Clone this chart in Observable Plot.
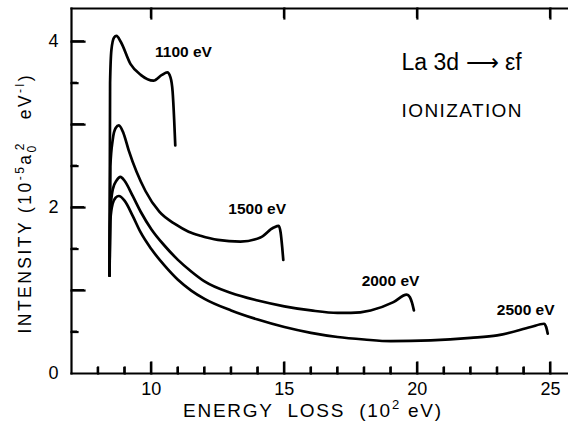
<!DOCTYPE html>
<html><head><meta charset="utf-8">
<script src="https://cdn.jsdelivr.net/npm/d3@7"></script>
<script src="https://cdn.jsdelivr.net/npm/@observablehq/plot@0.6"></script>
<style>body{margin:0;background:#fff}</style>
</head><body><div id="chart"></div>
<script>
// Energy loss in units of 10^2 eV, intensity in 10^-5 a0^2 eV^-1
const x1100 = [8.43, 8.45, 8.50, 8.60, 8.69, 8.85, 9.22, 9.60, 10.08, 10.40, 10.60, 10.72, 10.80, 10.86, 10.90];
const y1100 = [1.18, 3.50, 3.90, 4.05, 4.07, 4.00, 3.73, 3.60, 3.53, 3.60, 3.63, 3.57, 3.40, 3.05, 2.75];

const x1500 = [8.43, 8.46, 8.55, 8.66, 8.78, 8.95, 9.15, 9.78, 10.30, 10.90, 11.40, 11.85, 12.50, 13.35, 14.10, 14.60, 14.79, 14.86, 14.92, 14.96];
const y1500 = [1.18, 2.50, 2.82, 2.96, 2.99, 2.90, 2.69, 2.20, 1.95, 1.80, 1.71, 1.66, 1.61, 1.59, 1.64, 1.76, 1.78, 1.70, 1.52, 1.37];

const x2000 = [8.43, 8.46, 8.55, 8.70, 8.84, 9.00, 9.30, 9.60, 10.00, 10.50, 11.00, 11.50, 12.00, 13.00, 14.00, 15.00, 16.00, 17.00, 17.50, 18.24, 19.10, 19.60, 19.72, 19.80, 19.87];
const y2000 = [1.18, 1.95, 2.22, 2.33, 2.37, 2.32, 2.14, 1.95, 1.74, 1.54, 1.37, 1.23, 1.11, 0.97, 0.88, 0.81, 0.76, 0.73, 0.73, 0.76, 0.86, 0.95, 0.92, 0.85, 0.76];

const x2500 = [8.43, 8.46, 8.55, 8.66, 8.78, 9.00, 9.30, 9.60, 10.00, 10.50, 11.00, 11.50, 12.00, 13.00, 14.00, 15.00, 16.00, 17.00, 18.00, 19.00, 20.50, 22.00, 23.00, 24.26, 24.76, 24.84, 24.90];
const y2500 = [1.18, 1.85, 2.05, 2.12, 2.14, 2.08, 1.90, 1.70, 1.50, 1.30, 1.13, 1.00, 0.90, 0.76, 0.65, 0.56, 0.49, 0.44, 0.41, 0.39, 0.40, 0.43, 0.46, 0.56, 0.60, 0.56, 0.48];

const seriesNames = ["1100 eV", "1500 eV", "2000 eV", "2500 eV"];
const labelX = [11.21, 13.98, 18.99, 24.07];
const labelY = [3.87, 1.98, 1.12, 0.76];

const xTickLabels = [10, 15, 20, 25];
const xMinorTicks = [8, 9, 11, 12, 13, 14, 16, 17, 18, 19, 21, 22, 23, 24];
const xTopTicks = [10, 15, 20, 25];
const yTickLabels = [0, 2, 4];
const yMajorTicks = [1, 2, 3, 4];
const yMinorTicks = [0.5, 1.5, 2.5, 3.5];

const noteText = ["La 3d \u27f6 \u03b5f", "IONIZATION"];
const noteX = [21.66, 21.66];
const noteY = [3.75, 3.17];

const xTitle = "ENERGY LOSS (10\u00b2 eV)";
const yTitle = "INTENSITY (10\u207b\u2075a\u2080\u00b2 eV\u207b\u00b9)";

const xs = [x1100, x1500, x2000, x2500];
const ys = [y1100, y1500, y2000, y2500];
const curveRows = seriesNames.flatMap((s, i) => xs[i].map((x, j) => ({series: s, x, y: ys[i][j]})));
const labelRows = seriesNames.map((s, i) => ({text: s, x: labelX[i], y: labelY[i]}));
const noteRows = noteText.map((t, i) => ({text: t, x: noteX[i], y: noteY[i]}));

const W = 568, H = 429, mL = 71, mR = 0, mT = 8, mB = 56;
const innerW = W - mL - mR, innerH = H - mT - mB;
const xMin = 7, xMax = 25.68, yMax = 4.4;
const pxX = innerW / (xMax - xMin), pxY = innerH / yMax;
const lenX = px => px / pxX, lenY = px => px / pxY; // tick lengths (pixels) in data units

const axisSegs = [
  {x1: xMin, x2: xMax, y1: 0, y2: 0},
  {x1: xMin, x2: xMax, y1: yMax, y2: yMax},
  {x1: xMin, x2: xMin, y1: 0, y2: yMax},
  ...xMinorTicks.map(v => ({x1: v, x2: v, y1: 0, y2: lenY(6)})),
  ...xTickLabels.map(v => ({x1: v, x2: v, y1: 0, y2: lenY(11)})),
  ...xTopTicks.map(v => ({x1: v, x2: v, y1: yMax - lenY(10), y2: yMax})),
  ...yMajorTicks.map(v => ({x1: xMin, x2: xMin + lenX(13), y1: v, y2: v})),
  ...yMinorTicks.map(v => ({x1: xMin, x2: xMin + lenX(6), y1: v, y2: v}))
];

const chart = Plot.plot({
  width: W, height: H,
  marginLeft: mL, marginRight: mR, marginTop: mT, marginBottom: mB,
  x: {domain: [xMin, xMax]},
  y: {domain: [0, yMax]},
  style: {fontFamily: "'Liberation Sans', Arial, Helvetica, sans-serif", color: "#000", background: "#fff"},
  marks: [
    Plot.axisX(xTickLabels, {tickSize: 0, tickPadding: 9, fontSize: 18, label: null, tickFormat: "d"}),
    Plot.axisY(yTickLabels, {tickSize: 0, tickPadding: 13, fontSize: 18, label: null, tickFormat: "d"}),
    Plot.link(axisSegs, {x1: "x1", x2: "x2", y1: "y1", y2: "y2", stroke: "#000", strokeWidth: 2.2, strokeLinecap: "square"}),
    Plot.line(curveRows, {x: "x", y: "y", z: "series", curve: "monotone-x", stroke: "#000", strokeWidth: 2.7}),
    Plot.text(labelRows, {x: "x", y: "y", text: "text", fontSize: 15.5, fontWeight: "bold"}),
    Plot.text(noteRows.slice(0, 1), {x: "x", y: "y", text: "text", fontSize: 23}),
    Plot.text(noteRows.slice(1), {x: "x", y: "y", text: "text", fontSize: 19}),
    Plot.text([xTitle], {text: d => d, frameAnchor: "bottom", textAnchor: "middle", lineAnchor: "middle", dx: -8, dy: 37, fontSize: 19}),
    Plot.text([yTitle], {text: d => d, frameAnchor: "left", textAnchor: "middle", lineAnchor: "middle", dx: -46, dy: 13.5, rotate: -90, fontSize: 17.5})
  ]
});
document.getElementById("chart").appendChild(chart);

// typographic refinement: real super/subscripts and widths of the titles
const NS = "http://www.w3.org/2000/svg";
function rich(el, parts, length) {
  while (el.firstChild) el.removeChild(el.firstChild);
  for (const p of parts) {
    const t = document.createElementNS(NS, "tspan");
    t.textContent = p.t;
    if (p.size) t.setAttribute("font-size", p.size);
    if (p.dx) t.setAttribute("dx", p.dx);
    if (p.dy) t.setAttribute("dy", p.dy);
    el.appendChild(t);
  }
  if (length) { el.setAttribute("textLength", length); el.setAttribute("lengthAdjust", "spacing"); }
  el.style.whiteSpace = "pre";
}
chart.querySelectorAll("text").forEach(el => {
  const s = el.textContent;
  if (s === xTitle) {
    rich(el, [{t: "ENERGY  LOSS  (10"}, {t: "2", size: 13, dy: -8}, {t: " eV)", dy: 8}], 258);
  } else if (s === yTitle) {
    rich(el, [
      {t: "INTENSITY (10"},
      {t: "-5", size: 12, dy: -7},
      {t: "a", dy: 7},
      {t: "0", size: 12, dy: 5},
      {t: "2", size: 12, dx: -7, dy: -12},
      {t: "   eV", dy: 7},
      {t: "-l", size: 12, dy: -7},
      {t: ")", dy: 7}
    ], 258);
  } else if (s === noteText[1]) {
    el.setAttribute("textLength", 120);
    el.setAttribute("lengthAdjust", "spacing");
  }
});

// ticks re-drawn on top from Plot's own scales (identical positions)
try {
  const sx = chart.scale("x"), sy = chart.scale("y");
  const g = d3.select(chart).append("g").attr("stroke", "#000").attr("stroke-width", 2);
  g.selectAll("line").data(axisSegs.slice(3)).join("line")
    .attr("x1", d => sx.apply(d.x1)).attr("x2", d => sx.apply(d.x2))
    .attr("y1", d => sy.apply(d.y1)).attr("y2", d => sy.apply(d.y2));
} catch (e) {}
</script>
</body></html>
